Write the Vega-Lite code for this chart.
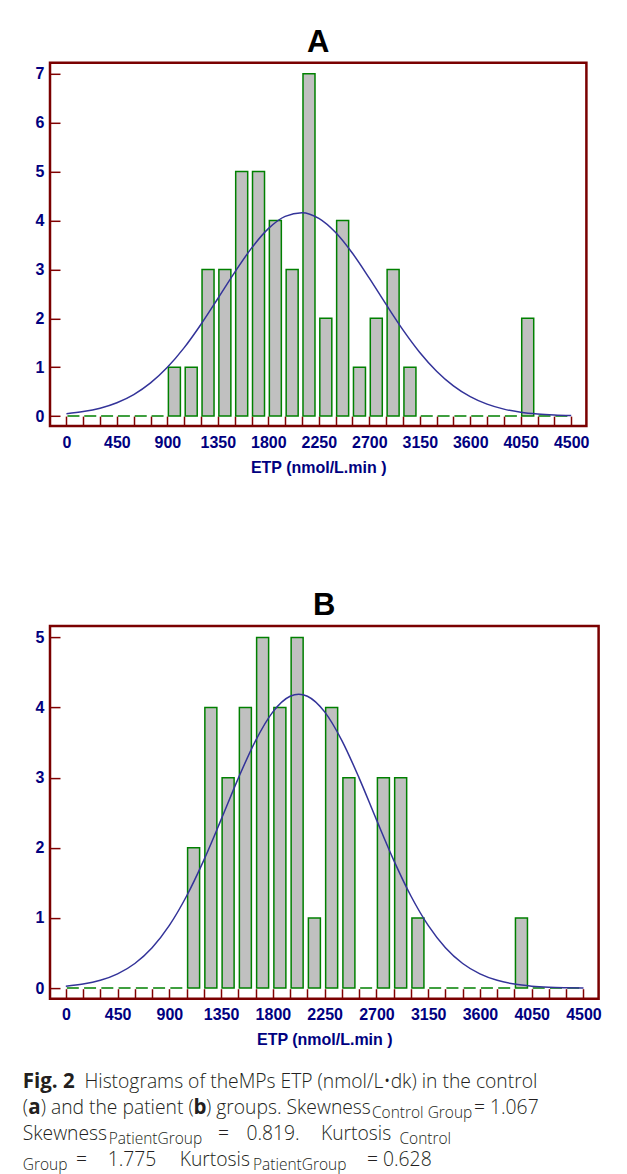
{
  "$schema": "https://vega.github.io/schema/vega-lite/v6.json",
  "background": "white",
  "padding": {"left": 22, "top": 24.8, "right": 0, "bottom": 0},
  "datasets": {
    "histA": [
      {"etp": 0, "count": 0}, {"etp": 150, "count": 0}, {"etp": 300, "count": 0}, {"etp": 450, "count": 0}, {"etp": 600, "count": 0}, {"etp": 750, "count": 0},
      {"etp": 900, "count": 1}, {"etp": 1050, "count": 1}, {"etp": 1200, "count": 3}, {"etp": 1350, "count": 3}, {"etp": 1500, "count": 5}, {"etp": 1650, "count": 5},
      {"etp": 1800, "count": 4}, {"etp": 1950, "count": 3}, {"etp": 2100, "count": 7}, {"etp": 2250, "count": 2}, {"etp": 2400, "count": 4}, {"etp": 2550, "count": 1},
      {"etp": 2700, "count": 2}, {"etp": 2850, "count": 3}, {"etp": 3000, "count": 1}, {"etp": 3150, "count": 0}, {"etp": 3300, "count": 0}, {"etp": 3450, "count": 0},
      {"etp": 3600, "count": 0}, {"etp": 3750, "count": 0}, {"etp": 3900, "count": 0}, {"etp": 4050, "count": 2}, {"etp": 4200, "count": 0}, {"etp": 4350, "count": 0}
    ],
    "histB": [
      {"etp": 0, "count": 0}, {"etp": 150, "count": 0}, {"etp": 300, "count": 0}, {"etp": 450, "count": 0}, {"etp": 600, "count": 0}, {"etp": 750, "count": 0},
      {"etp": 900, "count": 0}, {"etp": 1050, "count": 2}, {"etp": 1200, "count": 4}, {"etp": 1350, "count": 3}, {"etp": 1500, "count": 4}, {"etp": 1650, "count": 5},
      {"etp": 1800, "count": 4}, {"etp": 1950, "count": 5}, {"etp": 2100, "count": 1}, {"etp": 2250, "count": 4}, {"etp": 2400, "count": 3}, {"etp": 2550, "count": 0},
      {"etp": 2700, "count": 3}, {"etp": 2850, "count": 3}, {"etp": 3000, "count": 1}, {"etp": 3150, "count": 0}, {"etp": 3300, "count": 0}, {"etp": 3450, "count": 0},
      {"etp": 3600, "count": 0}, {"etp": 3750, "count": 0}, {"etp": 3900, "count": 1}, {"etp": 4050, "count": 0}, {"etp": 4200, "count": 0}, {"etp": 4350, "count": 0}
    ],
    "curveA": [
      {"etp": 0, "count": 0.05}, {"etp": 150, "count": 0.092}, {"etp": 300, "count": 0.162}, {"etp": 450, "count": 0.274}, {"etp": 600, "count": 0.441},
      {"etp": 750, "count": 0.679}, {"etp": 900, "count": 0.998}, {"etp": 1050, "count": 1.4}, {"etp": 1200, "count": 1.879}, {"etp": 1350, "count": 2.405},
      {"etp": 1500, "count": 2.94}, {"etp": 1650, "count": 3.435}, {"etp": 1800, "count": 3.834}, {"etp": 1950, "count": 4.085}, {"etp": 2100, "count": 4.159},
      {"etp": 2250, "count": 4.043}, {"etp": 2400, "count": 3.754}, {"etp": 2550, "count": 3.33}, {"etp": 2700, "count": 2.821}, {"etp": 2850, "count": 2.283},
      {"etp": 3000, "count": 1.764}, {"etp": 3150, "count": 1.302}, {"etp": 3300, "count": 0.918}, {"etp": 3450, "count": 0.618}, {"etp": 3600, "count": 0.398},
      {"etp": 3750, "count": 0.244}, {"etp": 3900, "count": 0.143}, {"etp": 4050, "count": 0.08}, {"etp": 4200, "count": 0.043}, {"etp": 4350, "count": 0.022},
      {"etp": 4500, "count": 0.011}
    ],
    "curveB": [
      {"etp": 0, "count": 0.028}, {"etp": 150, "count": 0.057}, {"etp": 300, "count": 0.111}, {"etp": 450, "count": 0.203}, {"etp": 600, "count": 0.351},
      {"etp": 750, "count": 0.576}, {"etp": 900, "count": 0.894}, {"etp": 1050, "count": 1.313}, {"etp": 1200, "count": 1.825}, {"etp": 1350, "count": 2.402},
      {"etp": 1500, "count": 2.994}, {"etp": 1650, "count": 3.529}, {"etp": 1800, "count": 3.938}, {"etp": 1950, "count": 4.161}, {"etp": 2025, "count": 4.19},
      {"etp": 2100, "count": 4.161}, {"etp": 2250, "count": 3.938}, {"etp": 2400, "count": 3.529}, {"etp": 2550, "count": 2.994}, {"etp": 2700, "count": 2.402},
      {"etp": 2850, "count": 1.825}, {"etp": 3000, "count": 1.313}, {"etp": 3150, "count": 0.894}, {"etp": 3300, "count": 0.576}, {"etp": 3450, "count": 0.351},
      {"etp": 3600, "count": 0.203}, {"etp": 3750, "count": 0.111}, {"etp": 3900, "count": 0.057}, {"etp": 4050, "count": 0.028}, {"etp": 4200, "count": 0.013},
      {"etp": 4350, "count": 0.006}, {"etp": 4500, "count": 0.002}
    ],
    "caption": [
      {"piece": "p1", "line": 1, "text": "Fig. 2"},
      {"piece": "p2", "line": 1, "text": "Histograms of theMPs ETP (nmol/L•dk) in the control"},
      {"piece": "p3", "line": 2, "text": "("},
      {"piece": "p4", "line": 2, "text": "a"},
      {"piece": "p5", "line": 2, "text": ") and the patient ("},
      {"piece": "p6", "line": 2, "text": "b"},
      {"piece": "p7", "line": 2, "text": ") groups. Skewness"},
      {"piece": "p8", "line": 2, "text": "Control Group"},
      {"piece": "p9", "line": 2, "text": "= 1.067"},
      {"piece": "p10", "line": 3, "text": "Skewness"},
      {"piece": "p11", "line": 3, "text": "PatientGroup"},
      {"piece": "p12", "line": 3, "text": "="},
      {"piece": "p12a", "line": 3, "text": "0.819."},
      {"piece": "p12b", "line": 3, "text": "Kurtosis"},
      {"piece": "p13", "line": 3, "text": "Control"},
      {"piece": "p14", "line": 4, "text": "Group"},
      {"piece": "p15", "line": 4, "text": "="},
      {"piece": "p15a", "line": 4, "text": "1.775"},
      {"piece": "p15b", "line": 4, "text": "Kurtosis"},
      {"piece": "p16", "line": 4, "text": "PatientGroup"},
      {"piece": "p17", "line": 4, "text": "= 0.628"}
    ]
  },
  "spacing": 22,
  "vconcat": [
    {
      "spacing": 112.3,
      "vconcat": [
        {
          "title": {"text": "A", "offset": 3.8},
          "width": 536.4,
          "height": 363.3,
          "encoding": {
            "x": {"field": "etp", "type": "quantitative",
              "scale": {"domain": [-102, 4591], "nice": false, "zero": false},
              "axis": {"values": [0,150,300,450,600,750,900,1050,1200,1350,1500,1650,1800,1950,2100,2250,2400,2550,2700,2850,3000,3150,3300,3450,3600,3750,3900,4050,4200,4350,4500],
                "format": "d", "labelExpr": "datum.value % 450 === 0 ? datum.label : ''", "labelPadding": 18, "titlePadding": 9, "title": "ETP (nmol/L.min )"}},
            "y": {"field": "count", "type": "quantitative",
              "scale": {"domain": [-0.2045, 7.225], "nice": false, "zero": false},
              "axis": {"values": [0,1,2,3,4,5,6,7], "labelPadding": 16, "title": null}}
          },
          "layer": [
            {"data": {"name": "histA"}, "mark": {"type": "bar", "size": 12, "xOffset": 7, "fill": "#c0c0c0", "stroke": "#008000", "strokeWidth": 1.5}, "encoding": {"y2": {"datum": 0}}},
            {"data": {"name": "curveA"}, "mark": {"type": "line", "color": "#333399", "strokeWidth": 1.5, "interpolate": "monotone"}}
          ]
        },
        {
          "title": {"text": "B", "offset": 3.7},
          "width": 548.6,
          "height": 372.6,
          "encoding": {
            "x": {"field": "etp", "type": "quantitative",
              "scale": {"domain": [-94, 4588], "nice": false, "zero": false},
              "axis": {"values": [0,150,300,450,600,750,900,1050,1200,1350,1500,1650,1800,1950,2100,2250,2400,2550,2700,2850,3000,3150,3300,3450,3600,3750,3900,4050,4200,4350,4500],
                "format": "d", "labelExpr": "datum.value % 450 === 0 ? datum.label : ''", "labelPadding": 18, "titlePadding": 9, "title": "ETP (nmol/L.min )"}},
            "y": {"field": "count", "type": "quantitative",
              "scale": {"domain": [-0.151, 5.161], "nice": false, "zero": false},
              "axis": {"values": [0,1,2,3,4,5], "labelPadding": 16, "title": null}}
          },
          "layer": [
            {"data": {"name": "histB"}, "mark": {"type": "bar", "size": 12, "xOffset": 7, "fill": "#c0c0c0", "stroke": "#008000", "strokeWidth": 1.5}, "encoding": {"y2": {"datum": 0}}},
            {"data": {"name": "curveB"}, "mark": {"type": "line", "color": "#333399", "strokeWidth": 1.5, "interpolate": "monotone"}}
          ]
        }
      ]
    },
    {
      "width": 480,
      "height": 78.4,
      "view": {"stroke": null},
      "data": {"name": "caption"},
      "encoding": {
        "y": {"field": "line", "type": "quantitative", "scale": {"domain": [1, 4], "reverse": true, "nice": false, "zero": false}, "axis": null},
        "text": {"field": "text"}
      },
      "layer": [
        {"transform": [{"filter": "datum.piece === 'p1'"}], "mark": {"type": "text", "style": "capb"}, "encoding": {"x": {"value": -27.3}}},
        {"transform": [{"filter": "datum.piece === 'p2'"}], "mark": {"type": "text", "style": "cap"}, "encoding": {"x": {"value": 34.4}}},
        {"transform": [{"filter": "datum.piece === 'p3'"}], "mark": {"type": "text", "style": "cap"}, "encoding": {"x": {"value": -27.3}}},
        {"transform": [{"filter": "datum.piece === 'p4'"}], "mark": {"type": "text", "style": "capb"}, "encoding": {"x": {"value": -21.8}}},
        {"transform": [{"filter": "datum.piece === 'p5'"}], "mark": {"type": "text", "style": "cap"}, "encoding": {"x": {"value": -9.3}}},
        {"transform": [{"filter": "datum.piece === 'p6'"}], "mark": {"type": "text", "style": "capb"}, "encoding": {"x": {"value": 143.5}}},
        {"transform": [{"filter": "datum.piece === 'p7'"}], "mark": {"type": "text", "style": "cap"}, "encoding": {"x": {"value": 156}}},
        {"transform": [{"filter": "datum.piece === 'p8'"}], "mark": {"type": "text", "style": "caps"}, "encoding": {"x": {"value": 322}}},
        {"transform": [{"filter": "datum.piece === 'p9'"}], "mark": {"type": "text", "style": "cap"}, "encoding": {"x": {"value": 424}}},
        {"transform": [{"filter": "datum.piece === 'p10'"}], "mark": {"type": "text", "style": "cap"}, "encoding": {"x": {"value": -27.3}}},
        {"transform": [{"filter": "datum.piece === 'p11'"}], "mark": {"type": "text", "style": "caps"}, "encoding": {"x": {"value": 58.7}}},
        {"transform": [{"filter": "datum.piece === 'p12'"}], "mark": {"type": "text", "style": "cap"}, "encoding": {"x": {"value": 168}}},
        {"transform": [{"filter": "datum.piece === 'p12a'"}], "mark": {"type": "text", "style": "cap"}, "encoding": {"x": {"value": 196.4}}},
        {"transform": [{"filter": "datum.piece === 'p12b'"}], "mark": {"type": "text", "style": "cap"}, "encoding": {"x": {"value": 271}}},
        {"transform": [{"filter": "datum.piece === 'p13'"}], "mark": {"type": "text", "style": "caps"}, "encoding": {"x": {"value": 349.5}}},
        {"transform": [{"filter": "datum.piece === 'p14'"}], "mark": {"type": "text", "style": "caps"}, "encoding": {"x": {"value": -27.3}}},
        {"transform": [{"filter": "datum.piece === 'p15'"}], "mark": {"type": "text", "style": "cap"}, "encoding": {"x": {"value": 26}}},
        {"transform": [{"filter": "datum.piece === 'p15a'"}], "mark": {"type": "text", "style": "cap"}, "encoding": {"x": {"value": 57.7}}},
        {"transform": [{"filter": "datum.piece === 'p15b'"}], "mark": {"type": "text", "style": "cap"}, "encoding": {"x": {"value": 129.7}}},
        {"transform": [{"filter": "datum.piece === 'p16'"}], "mark": {"type": "text", "style": "caps"}, "encoding": {"x": {"value": 203}}},
        {"transform": [{"filter": "datum.piece === 'p17'"}], "mark": {"type": "text", "style": "cap"}, "encoding": {"x": {"value": 317}}}
      ]
    }
  ],
  "config": {
    "view": {"stroke": "#7a0000", "strokeWidth": 2.5},
    "axis": {"domain": false, "grid": false, "tickColor": "#800000", "tickWidth": 1.5, "tickSize": -10,
      "labelFont": "Liberation Sans", "labelFontWeight": "bold", "labelFontSize": 16, "labelColor": "#000080",
      "titleFont": "Liberation Sans", "titleFontWeight": "bold", "titleFontSize": 16, "titleColor": "#000080",
      "labelOverlap": false, "labelFlush": false},
    "title": {"font": "Liberation Sans", "fontWeight": "bold", "fontSize": 31, "color": "#000000", "baseline": "alphabetic", "anchor": "middle"},
    "style": {
      "cap": {"font": "Open Sans", "fontSize": 19.3, "fontWeight": 300, "color": "#231f20", "align": "left", "baseline": "alphabetic"},
      "capb": {"font": "Open Sans", "fontSize": 20.5, "fontWeight": "bold", "color": "#231f20", "align": "left", "baseline": "alphabetic"},
      "caps": {"font": "Open Sans", "fontSize": 15.5, "fontWeight": 300, "color": "#231f20", "align": "left", "baseline": "alphabetic", "dy": 4.2}
    }
  }
}
